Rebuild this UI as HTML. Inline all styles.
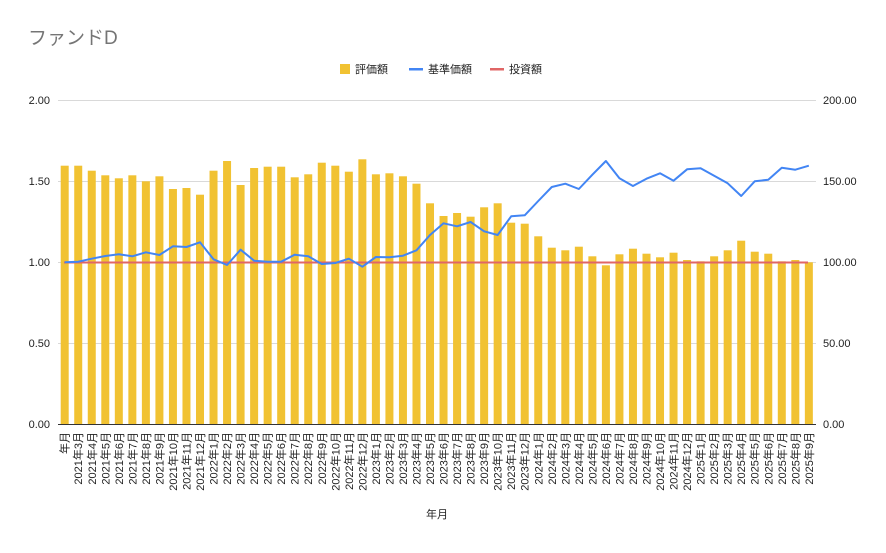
<!DOCTYPE html>
<html><head><meta charset="utf-8"><style>
body{margin:0;background:#fff;}
svg text{font-family:"Liberation Sans","Noto Sans CJK JP",sans-serif;}
</style></head><body>
<svg id="c" width="886" height="548" xmlns="http://www.w3.org/2000/svg">
<rect width="886" height="548" fill="#fff"/>
<text x="28" y="44" font-size="19" fill="#757575">ファンドD</text>
<rect x="340" y="64" width="10" height="10" fill="#f1c232"/>
<text x="355" y="73" font-size="11" fill="#222">評価額</text>
<rect x="409" y="68" width="14" height="2.5" fill="#4285f4"/>
<text x="428" y="73" font-size="11" fill="#222">基準価額</text>
<rect x="490" y="68" width="14" height="2.5" fill="#e06666"/>
<text x="509" y="73" font-size="11" fill="#222">投資額</text>
<g stroke="#d9d9d9" stroke-width="1">
<line x1="58" x2="816" y1="100.5" y2="100.5"/><line x1="58" x2="816" y1="181.5" y2="181.5"/>
<line x1="58" x2="816" y1="262.5" y2="262.5"/><line x1="58" x2="816" y1="343.5" y2="343.5"/>
<line x1="58" x2="816" y1="424.5" y2="424.5" stroke="#333"/>
</g>
<g font-size="11" fill="#222" text-anchor="end">
<text x="50" y="104">2.00</text><text x="50" y="185">1.50</text><text x="50" y="266">1.00</text><text x="50" y="347">0.50</text><text x="50" y="428">0.00</text>
</g>
<g font-size="11" fill="#222">
<text x="823" y="104">200.00</text><text x="823" y="185">150.00</text><text x="823" y="266">100.00</text><text x="823" y="347">50.00</text><text x="823" y="428">0.00</text>
</g>
<g id="bars" fill="#f1c232"></g>
<line x1="64" x2="808" y1="262.5" y2="262.5" stroke="#e06666" stroke-width="2"/>
<polyline id="ln" fill="none" stroke="#4285f4" stroke-width="2" stroke-linejoin="round"/>
<g id="lbl" font-size="11" fill="#222"></g>
<text x="437" y="518" font-size="11" fill="#222" text-anchor="middle">年月</text>
</svg>
<script>
var tops=[165.7,165.7,170.7,175.3,178.3,175.3,181.3,176.3,189,188,194.7,170.7,161,185,168,166.7,166.7,177.3,174.3,162.7,165.7,171.7,159.3,174.3,173.3,176.3,183.7,203.3,216,213,216.7,207.3,203.3,222.7,223.7,236.3,247.7,250.3,246.7,256.3,265.3,254.3,248.7,253.7,257.3,252.7,260,261.3,256.3,250.3,240.7,251.7,253.7,261.3,260,262.3];
var ly=[262.3,261.7,258.7,256,254.3,256.3,252.3,255,246.3,247,242.3,259.3,265,249.7,260.7,261.7,261.7,254.7,256.3,264,263,258.7,266.7,257,257.3,255.7,250.3,235,223.3,226.3,222,231.3,235,216.3,215.3,201,187,183.7,189,174.7,161,178.3,186,178.7,173.3,180.7,169.3,168.3,175.7,183.3,196,181.3,179.7,167.7,169.7,165.7];
var ns="http://www.w3.org/2000/svg",b=document.getElementById('bars'),l=document.getElementById('lbl'),pts=[];
var labels=['年月'];for(var y=2021;y<=2025;y++)for(var m=1;m<=12;m++){if(y==2021&&m<3)continue;if(y==2025&&m>9)continue;labels.push(y+'年'+m+'月');}
for(var i=0;i<56;i++){var x=64.7+i*13.53;
var r=document.createElementNS(ns,'rect');r.setAttribute('x',x-4);r.setAttribute('width',8);r.setAttribute('y',tops[i]);r.setAttribute('height',424-tops[i]);b.appendChild(r);
pts.push(x+','+ly[i]);
var t=document.createElementNS(ns,'text');t.setAttribute('transform','translate('+(x+4)+',432) rotate(-90)');t.setAttribute('text-anchor','end');t.textContent=labels[i];l.appendChild(t);}
document.getElementById('ln').setAttribute('points',pts.join(' '));
</script>
</body></html>
